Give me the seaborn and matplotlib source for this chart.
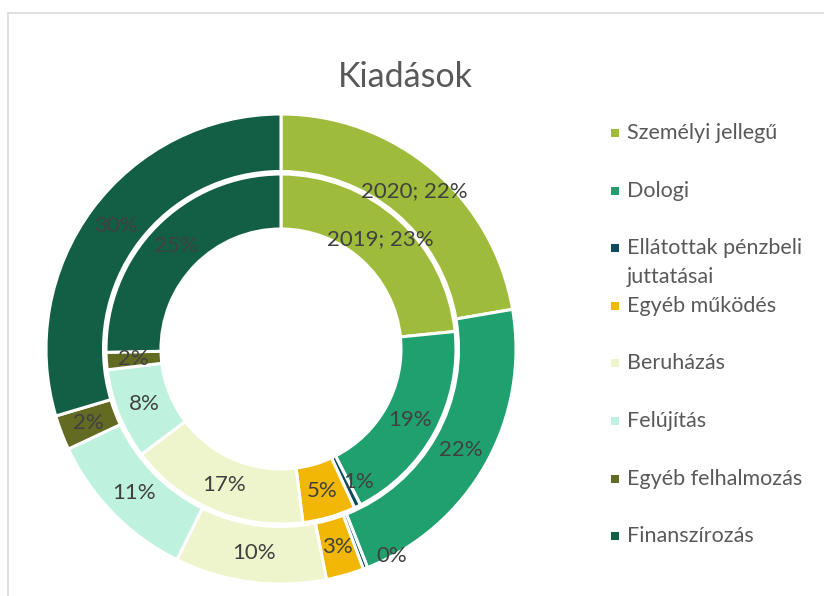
import matplotlib
matplotlib.use("Agg")
import matplotlib.pyplot as plt
from matplotlib.patches import Rectangle
import numpy as np
import seaborn as sns

# Expenditure structure (percent of total), by category
categories = [
    "Személyi jellegű",
    "Dologi",
    "Ellátottak pénzbeli\njuttatásai",
    "Egyéb működés",
    "Beruházás",
    "Felújítás",
    "Egyéb felhalmozás",
    "Finanszírozás",
]
years = ["2020", "2019"]
shares_2020 = [22.3, 21.7, 0.3, 2.6, 10.4, 10.7, 2.4, 29.6]
shares_2019 = [23.4, 19.1, 0.6, 4.9, 16.7, 8.4, 1.6, 25.3]
colors = ["#9fbb3b", "#21a06f", "#0c4a5c", "#f2b705",
          "#eef4cc", "#bef2de", "#636b23", "#135f45"]
title = "Kiadások"

sns.set_theme(style="white")
plt.rcParams["font.family"] = ["Lato", "DejaVu Sans"]
palette = sns.color_palette(colors)

W, H = 824, 596
fig = plt.figure(figsize=(W / 100, H / 100), dpi=100)
ax = fig.add_axes([0, 0, 1, 1])


def Y(y):
    """Convert a top-based pixel row to axes data coordinates."""
    return H - y


cx, cy = 281, Y(349)
label_color = "#404040"

# ring settings: outer ring = 2020, inner ring = 2019
rings = [
    (shares_2020, years[0], 235, 57.5),
    (shares_2019, years[1], 175, 55),
]
# nudges for the labels of very thin slices
nudges = {("2020", 2): (37, -15), ("2019", 2): (13, 0)}

for values, year, radius, width in rings:
    wedges, _ = ax.pie(
        values,
        colors=palette,
        radius=radius,
        center=(cx, cy),
        startangle=90,
        counterclock=False,
        wedgeprops=dict(width=width, edgecolor="white", linewidth=2.2),
    )
    rmid = radius - width / 2
    for i, (wd, v) in enumerate(zip(wedges, values)):
        ang = np.deg2rad((wd.theta1 + wd.theta2) / 2)
        x = cx + rmid * np.cos(ang)
        y = cy + rmid * np.sin(ang)
        txt = f"{v:.0f}%"
        if i == 0:
            txt = f"{year}; {txt}"
        dx, dy = nudges.get((year, i), (0, 0))
        ax.text(x + dx, y + dy, txt, ha="center", va="center",
                fontsize=16, color=label_color)

ax.set_xlim(0, W)
ax.set_ylim(0, H)
ax.axis("off")

# chart title
ax.text(405, Y(87), title, ha="center", va="baseline",
        fontsize=24.5, color="#595959")

# legend
leg_top, leg_step, line_step = 133, 57.6, 28.5
for i, (cat, col) in enumerate(zip(categories, palette)):
    y0 = leg_top + i * leg_step
    ax.add_patch(Rectangle((611, Y(y0 + 4)), 8, 8, facecolor=col,
                           edgecolor="none"))
    for j, line in enumerate(cat.split("\n")):
        ax.text(627, Y(y0 + j * line_step), line, ha="left", va="center",
                fontsize=15.5, color="#595959")

# chart area border
ax.plot([8.5, 8.5], [0, Y(12.5)], color="#d9d9d9", lw=1.2, clip_on=False)
ax.plot([8.5, W], [Y(12.5), Y(12.5)], color="#d9d9d9", lw=1.2, clip_on=False)

fig.savefig("out.png", dpi=100)
